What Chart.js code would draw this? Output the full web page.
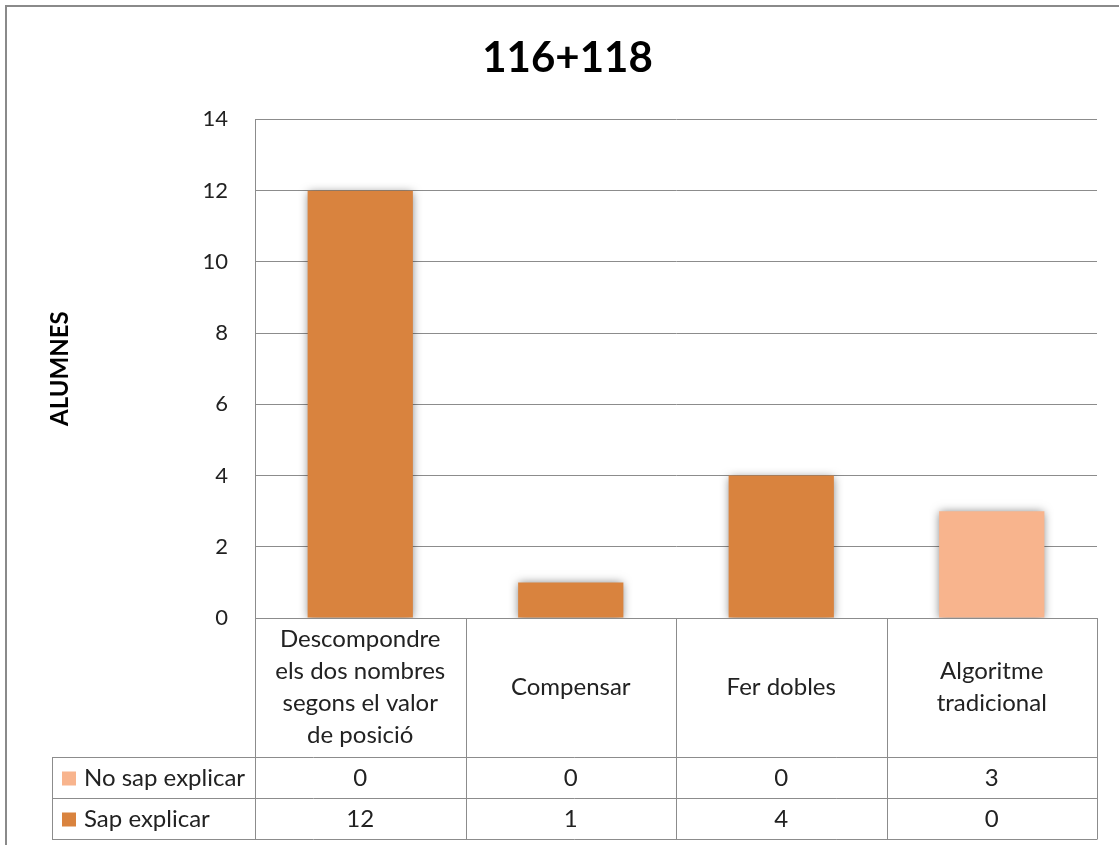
<!DOCTYPE html>
<html>
<head>
<meta charset="utf-8">
<title>116+118</title>
<script src="https://cdn.jsdelivr.net/npm/chart.js@4/dist/chart.umd.min.js"></script>
<style>
  html, body { margin: 0; padding: 0; background: #fff; }
  #chart-wrap { width: 1119px; height: 845px; position: relative; }
</style>
</head>
<body>
<div id="chart-wrap"><canvas id="alumnes-chart"></canvas></div>
<script>
// chart data
const gTitle = '116+118';
const gAxisTitle = 'ALUMNES';
const gCategories = [
  ['Descompondre', 'els dos nombres', 'segons el valor', 'de posició'],
  'Compensar',
  'Fer dobles',
  ['Algoritme', 'tradicional'],
];
const gSeriesNames = ['No sap explicar', 'Sap explicar'];
const gNoSapValues = [0, 0, 0, 3];
const gSapValues = [12, 1, 4, 0];
const gYMax = 14;
const gYStep = 2;

const G_FONT = 'Lato, "Noto Sans", sans-serif';
const G_LINE_COLOR = '#8c8c8c';
const G_TEXT_COLOR = '#222';

// white background + outer frame
const framePlugin = {
  id: 'frame',
  beforeDraw(chart) {
    const ctx = chart.ctx;
    ctx.save();
    ctx.fillStyle = '#fff';
    ctx.fillRect(0, 0, chart.width, chart.height);
    ctx.strokeStyle = '#8a8a8a';
    ctx.lineWidth = 2;
    ctx.strokeRect(6, 6, chart.width + 20, chart.height + 20);
    ctx.restore();
  },
};

// soft shadow under the columns
const shadowPlugin = {
  id: 'barShadow',
  beforeDatasetsDraw(chart) {
    const ctx = chart.ctx;
    ctx.save();
    ctx.shadowColor = 'rgba(0, 0, 0, 0.5)';
    ctx.shadowBlur = 9;
    ctx.shadowOffsetX = 0;
    ctx.shadowOffsetY = 1;
  },
  afterDatasetsDraw(chart) {
    chart.ctx.restore();
  },
};

// data table under the plot (category cells + one row per series)
const dataTablePlugin = {
  id: 'dataTable',
  afterDraw(chart) {
    const ctx = chart.ctx;
    const vArea = chart.chartArea;
    const vX = chart.scales.x;
    const vCount = chart.data.labels.length;
    const vHalf = (vArea.right - vArea.left) / vCount / 2;
    const vHeaderBottom = vArea.bottom + 139;
    const vRowHeight = 41;
    const vTableLeft = 52;
    const vDatasets = chart.data.datasets;
    const vTableBottom = vHeaderBottom + vRowHeight * vDatasets.length;

    ctx.save();
    ctx.strokeStyle = G_LINE_COLOR;
    ctx.lineWidth = 1;
    ctx.beginPath();
    // column separators
    for (let i = 0; i <= vCount; i++) {
      let vPx = Math.round(i < vCount ? vX.getPixelForValue(i) - vHalf : vX.getPixelForValue(vCount - 1) + vHalf) + 0.5;
      ctx.moveTo(vPx, vArea.bottom);
      ctx.lineTo(vPx, vTableBottom);
    }
    ctx.moveTo(vTableLeft + 0.5, vHeaderBottom);
    ctx.lineTo(vTableLeft + 0.5, vTableBottom);
    // row separators
    for (let r = 0; r <= vDatasets.length; r++) {
      let vPy = Math.round(vHeaderBottom + r * vRowHeight) + 0.5;
      ctx.moveTo(vTableLeft, vPy);
      ctx.lineTo(vArea.right + 0.5, vPy);
    }
    ctx.stroke();

    ctx.fillStyle = G_TEXT_COLOR;
    ctx.font = `24px ${G_FONT}`;
    ctx.textAlign = 'center';
    ctx.textBaseline = 'middle';

    // category labels
    const vLineHeight = 32;
    const vHeaderMid = (vArea.bottom + vHeaderBottom) / 2;
    chart.data.labels.forEach((label, i) => {
      let vLines = Array.isArray(label) ? label : [label];
      let vStart = vHeaderMid - ((vLines.length - 1) * vLineHeight) / 2;
      vLines.forEach((line, k) => {
        ctx.fillText(line, vX.getPixelForValue(i), vStart + k * vLineHeight);
      });
    });

    // series rows
    vDatasets.forEach((ds, r) => {
      let vMid = vHeaderBottom + r * vRowHeight + vRowHeight / 2 + 1;
      ctx.fillStyle = ds.backgroundColor;
      ctx.fillRect(vTableLeft + 10, vMid - 7, 14, 14);
      ctx.fillStyle = G_TEXT_COLOR;
      ctx.textAlign = 'left';
      ctx.fillText(ds.label, vTableLeft + 32, vMid);
      ctx.textAlign = 'center';
      ds.data.forEach((value, i) => {
        ctx.fillText(String(value), vX.getPixelForValue(i), vMid);
      });
    });
    ctx.restore();
  },
};

const vCanvas = document.getElementById('alumnes-chart').getContext('2d');

new Chart(vCanvas, {
  type: 'bar',
  data: {
    labels: gCategories,
    datasets: [
      {
        label: gSeriesNames[0],
        data: gNoSapValues,
        backgroundColor: '#f8b48d',
      },
      {
        label: gSeriesNames[1],
        data: gSapValues,
        backgroundColor: '#d9833e',
      },
    ],
  },
  options: {
    responsive: true,
    maintainAspectRatio: false,
    animation: false,
    devicePixelRatio: 1,
    datasets: {
      bar: {
        barPercentage: 0.5,
        categoryPercentage: 1,
        borderWidth: 0,
        inflateAmount: 0,
      },
    },
    layout: {
      padding: { left: 38, right: 22, top: 0, bottom: 227 },
    },
    plugins: {
      legend: { display: false },
      tooltip: { enabled: false },
      title: {
        display: true,
        text: gTitle,
        color: '#000',
        font: { family: G_FONT, size: 42, weight: 'bold', lineHeight: 1.2 },
        padding: { top: 33, bottom: 36 },
      },
    },
    scales: {
      x: {
        stacked: true,
        display: false,
      },
      y: {
        stacked: true,
        min: 0,
        max: gYMax,
        afterFit: (scale) => {
          scale.width = 217;
        },
        ticks: {
          stepSize: gYStep,
          padding: 27,
          color: G_TEXT_COLOR,
          font: { family: G_FONT, size: 22 },
        },
        grid: {
          color: G_LINE_COLOR,
          drawTicks: false,
        },
        border: { color: G_LINE_COLOR },
        title: {
          display: true,
          text: gAxisTitle,
          color: '#000',
          font: { family: G_FONT, size: 24, weight: 'bold' },
          padding: { top: 8, bottom: 0 },
        },
      },
    },
  },
  plugins: [framePlugin, shadowPlugin, dataTablePlugin],
});
</script>
</body>
</html>
